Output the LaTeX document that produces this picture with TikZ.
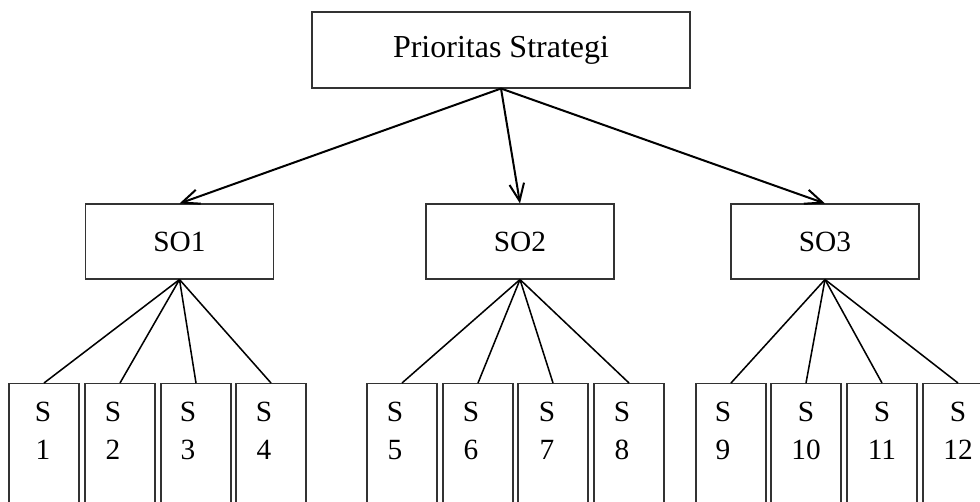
\documentclass[tikz,border=0pt]{standalone}
\usepackage{fontspec}
\setmainfont{Liberation Serif}
\usetikzlibrary{arrows.meta}
\begin{document}
\begin{tikzpicture}[x=0.75pt,y=-0.75pt,
  boxline/.style={draw=black!80, line width=0.8pt, inner sep=0pt},
  topbox/.style={boxline, minimum width=283.5pt, minimum height=57pt,
    font=\fontsize{24}{28}\selectfont},
  midbox/.style={boxline, minimum width=141pt, minimum height=56.25pt,
    font=\fontsize{22}{26}\selectfont},
  sbox/.style={boxline, anchor=north, minimum width=52.5pt, minimum height=105pt},
  lab/.style={anchor=base, inner sep=0pt, font=\fontsize{22}{26}\selectfont},
  arrowline/.style={line width=1.5pt, -{Straight Barb[length=13pt,width=11pt]}},
  link/.style={line width=1.15pt}]
  \useasboundingbox (0,0) rectangle (980,502);
  \clip (0,0) rectangle (980,502);

  % root and the three strategy groups
  \node[topbox] (root) at (501,50) {Prioritas Strategi};
  \node[midbox] (so1) at (179.5,241.5) {SO1};
  \node[midbox] (so2) at (520,241.5) {SO2};
  \node[midbox] (so3) at (825,241.5) {SO3};

  \foreach \g in {so1,so2,so3}
    \draw[arrowline] (root.south) -- (\g.north);

  % strategies S1 ... S12 under their group
  \foreach \i/\cx/\tx/\p in {1/44/43/so1, 2/120/113/so1, 3/196/188/so1, 4/271/264/so1,
      5/402/395/so2, 6/478/471/so2, 7/553/547/so2, 8/629/622/so2,
      9/731/723/so3, 10/806/806/so3, 11/882/882/so3, 12/958/958/so3} {
    \node[sbox] (s\i) at (\cx,383) {};
    \node[lab] (s\i t) at (\tx,421) {S};
    \node[lab] (s\i n) at (\tx,459) {\i};
    \draw[link] (\p.south) -- (s\i.north);
  }
\end{tikzpicture}
\end{document}
